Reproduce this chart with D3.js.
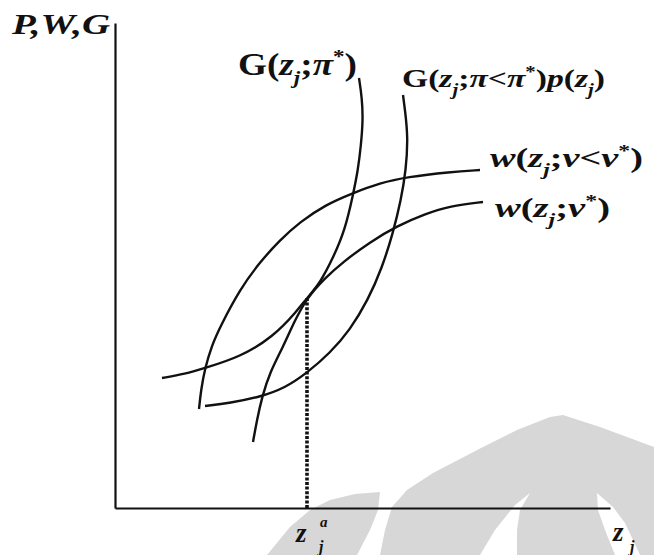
<!DOCTYPE html>
<html>
<head>
<meta charset="utf-8">
<script src="https://cdn.jsdelivr.net/npm/d3@7"></script>
<style>
  html, body { margin: 0; padding: 0; background: #fff; }
  svg { display: block; }
  text { font-family: "Liberation Serif", "Times New Roman", serif; font-weight: bold; fill: #111; }
</style>
</head>
<body>
<svg id="chart" width="654" height="555"></svg>
<script>
// ---- data (abstract units: z_j along x, P/W/G along y) ----
const gPiStar = [[47,130],[70,134],[90,140],[125,151],[158,171],[182,197],[192,210],[205,225],[218,250],[230,278],[238,313],[243,338],[246,363],[248,388],[247,410],[244,430]];
const gPiLow  = [[90,102],[115,105],[145,111],[170,120],[192,135],[215,155],[235,178],[253,208],[267,240],[278,275],[286,308],[291,338],[293,371],[290,398],[288,413]];
const wNuLow  = [[84,99],[86,118],[90,140],[97,163],[105,181],[125,219],[145,246],[165,268],[185,286],[210,303],[238,315],[265,325],[292,331],[335,336],[365,338]];
const wNuStar = [[138,66],[142,88],[147,111],[155,136],[168,161],[180,188],[192,210],[210,230],[228,246],[255,266],[282,282],[310,294],[335,302],[368,306]];
const zA = 192;          // z_j^a
const zAHeight = 210;    // level where G(z;pi*) meets w(z;v*)

// faint background watermark (same units)
const wmGray1 = [[152,-47],[175,-19],[195,-2],[215,8],[240,14],[265,16],[263,-2],[255,-22],[242,-47]];
const wmGray2 = [[265,-47],[270,-22],[277,1],[292,18],[318,35],[368,61],[402,78],[435,91],[448,93],[485,81],[539,61],[539,-47]];
const wmWhite1 = [[365,-47],[380,-22],[400,3],[415,15],[405,-2],[402,-22],[402,-47]];
const wmWhite2 = [[482,15],[498,1],[510,-15],[525,-47],[500,-47],[490,-22],[483,-2]];

const svg = d3.select("#chart");
const x = d3.scaleLinear().domain([0, 495]).range([115, 610]);
const y = d3.scaleLinear().domain([0, 485]).range([508, 23]);

// watermark
const poly = d3.line().x(d => x(d[0])).y(d => y(d[1]));
[[wmGray1,"#d7d7d7"],[wmGray2,"#d7d7d7"],[wmWhite1,"#fff"],[wmWhite2,"#fff"]].forEach(([p,c]) => {
  svg.append("path").attr("d", poly(p) + "Z").attr("fill", c).attr("stroke", "none");
});

// axes
const xAxis = svg.append("g").attr("transform", `translate(0,${y(0)})`)
  .call(d3.axisBottom(x).tickValues([]).tickSizeOuter(0));
const yAxis = svg.append("g").attr("transform", `translate(${x(0)},0)`)
  .call(d3.axisLeft(y).tickValues([]).tickSizeOuter(0));
[xAxis, yAxis].forEach(a => a.select(".domain").attr("stroke", "#111").attr("stroke-width", 2.2));

// dotted guide
svg.append("line")
  .attr("x1", x(zA)).attr("x2", x(zA))
  .attr("y1", y(zAHeight)).attr("y2", y(0))
  .attr("stroke", "#111").attr("stroke-width", 3.6).attr("stroke-dasharray", "3,1.6");

// curves
const line = d3.line().x(d => x(d[0])).y(d => y(d[1])).curve(d3.curveBasis);
[gPiStar, gPiLow, wNuLow, wNuStar].forEach(c => {
  svg.append("path").attr("d", line(c)).attr("fill", "none")
    .attr("stroke", "#111").attr("stroke-width", 2.4).attr("stroke-linecap", "butt");
});

// rich text helper: segments [text, italic, shift] shift: 0 normal, -1 sub, 1 sup
function rich(px, py, size, width, segs) {
  const t = svg.append("text").attr("x", px).attr("y", py).attr("font-size", size);
  let cur = 0;
  segs.forEach(([s, it, sh]) => {
    const target = sh === -1 ? size * 0.3 : sh === 1 ? -size * 0.38 : 0;
    t.append("tspan").text(s)
      .attr("font-style", it ? "italic" : "normal")
      .attr("font-size", sh ? size * 0.62 : size)
      .attr("dy", target - cur);
    cur = target;
  });
  if (width) t.attr("textLength", width).attr("lengthAdjust", "spacingAndGlyphs");
  return t;
}

rich(12, 34, 30, 98, [["P",1,0],[",",1,0],["W",1,0],[",",1,0],["G",1,0]]);
rich(238, 75, 31, 119, [["G(",0,0],["z",1,0],["j",1,-1],[";",0,0],["π",1,0],["*",0,1],[")",0,0]]);
rich(402, 87, 26, 203, [["G(",0,0],["z",1,0],["j",1,-1],[";",0,0],["π",1,0],["<",0,0],["π",1,0],["*",0,1],[")",0,0],["p",1,0],["(",0,0],["z",1,0],["j",1,-1],[")",0,0]]);
rich(490, 167, 28, 153, [["w",1,0],["(",0,0],["z",1,0],["j",1,-1],[";",0,0],["v",1,0],["<",0,0],["v",1,0],["*",0,1],[")",0,0]]);
rich(495, 217, 28, 115, [["w",1,0],["(",0,0],["z",1,0],["j",1,-1],[";",0,0],["v",1,0],["*",0,1],[")",0,0]]);

// axis labels
svg.append("text").attr("x", x(zA) - 11).attr("y", 542).attr("font-size", 27).attr("font-style", "italic").text("z");
svg.append("text").attr("x", x(zA) + 13).attr("y", 527).attr("font-size", 15).attr("font-style", "italic").text("a");
svg.append("text").attr("x", x(zA) + 12).attr("y", 552).attr("font-size", 16).attr("font-style", "italic").text("j");
svg.append("text").attr("x", 613).attr("y", 541).attr("font-size", 27).attr("font-style", "italic").text("z");
svg.append("text").attr("x", 630).attr("y", 552).attr("font-size", 16).attr("font-style", "italic").text("j");
</script>
</body>
</html>
